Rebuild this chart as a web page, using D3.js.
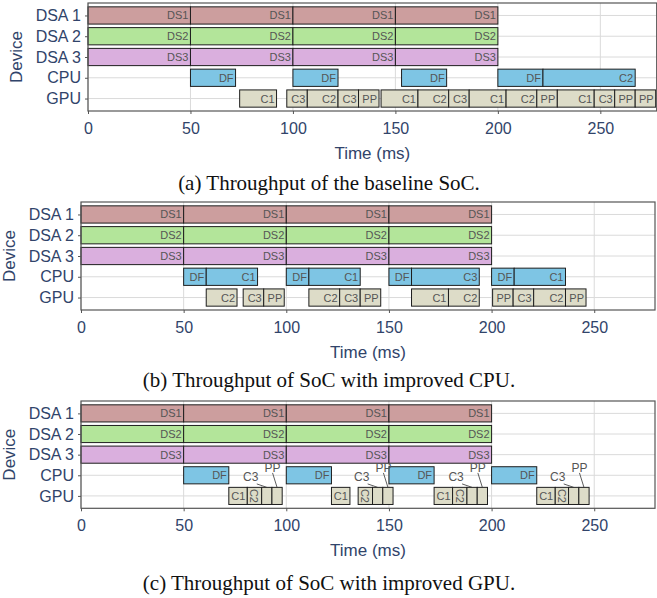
<!DOCTYPE html>
<html>
<head>
<meta charset="utf-8">
<script src="https://cdn.jsdelivr.net/npm/d3@7"></script>
<style>
  body { margin: 0; background: #fff; }
  svg { display: block; }
</style>
</head>
<body>
<svg width="657" height="598"></svg>
<script>
// rows and axis
const devices = ["DSA 1", "DSA 2", "DSA 3", "CPU", "GPU"];
const timeTicks = [0, 50, 100, 150, 200, 250];

// DSA frames, same in all three panels
const dsaFrames = [[0, 50], [50, 100], [100, 150], [150, 200]];
const dsaLabels = {"DSA 1": "DS1", "DSA 2": "DS2", "DSA 3": "DS3"};

// (a) baseline
const cpuA = [["DF", 50, 72], ["DF", 100, 122], ["DF", 153, 175], ["DF", 200, 222], ["C2", 222, 267]];
const gpuA = [["C1", 74, 92], ["C3", 97, 107], ["C2", 107, 122], ["C3", 122, 132], ["PP", 132, 142],
              ["C1", 143, 161], ["C2", 161, 176], ["C3", 176, 186], ["C1", 186, 204], ["C2", 204, 219],
              ["PP", 219, 229], ["C1", 229, 247], ["C3", 247, 257], ["PP", 257, 267], ["PP", 267, 277]];

// (b) improved CPU
const cpuB = [["DF", 50, 61], ["C1", 61, 86], ["DF", 100, 111], ["C1", 111, 136],
              ["DF", 150, 161], ["C3", 161, 194], ["DF", 200, 211], ["C1", 211, 236]];
const gpuB = [["C2", 61, 76], ["C3", 79, 89], ["PP", 89, 99], ["C2", 111, 126], ["C3", 126, 136],
              ["PP", 136, 146], ["C1", 161, 179], ["C2", 179, 194], ["PP", 200.5, 210.5],
              ["C3", 210.5, 220.5], ["C2", 220.5, 236], ["PP", 236, 246]];

// (c) improved GPU
const cpuC = [["DF", 50, 72], ["DF", 100, 122], ["DF", 150, 172], ["DF", 200, 222]];
const gpuC = [["C1", 72, 81], ["C2", 81, 88], ["C3", 88, 93], ["PP", 93, 98],
              ["C1", 122, 131], ["C2", 135, 142], ["C3", 142, 147], ["PP", 147, 152],
              ["C1", 172, 181], ["C2", 181, 188], ["C3", 188, 193], ["PP", 193, 198],
              ["C1", 222, 231], ["C2", 231, 237.5], ["C3", 237.5, 242.5], ["PP", 242.5, 247.5]];

const captions = ["(a) Throughput of the baseline SoC.",
                  "(b) Throughput of SoC with improved CPU.",
                  "(c) Throughput of SoC with improved GPU."];

var fill = {"DSA 1": "#cc9e9e", "DSA 2": "#b3e59a", "DSA 3": "#daafde", "CPU": "#7ec5e4", "GPU": "#dddcc8"};
var axisColor = "#31446a";
var svg = d3.select("svg");

function tasksFor(cpu, gpu) {
  var out = [];
  ["DSA 1", "DSA 2", "DSA 3"].forEach(dev => {
    dsaFrames.forEach(f => out.push({dev: dev, label: dsaLabels[dev], s: f[0], e: f[1]}));
  });
  cpu.forEach(t => out.push({dev: "CPU", label: t[0], s: t[1], e: t[2]}));
  gpu.forEach(t => out.push({dev: "GPU", label: t[0], s: t[1], e: t[2]}));
  return out;
}

function drawPanel(p) {
  var x = d3.scaleLinear().domain([0, p.xmax]).range([p.left, p.right]);
  var y = d3.scalePoint().domain(devices).range([p.top, p.bottom]).padding(0.6);
  var bh = y.step() * 0.83;
  var g = svg.append("g");

  // grid
  g.selectAll("line.vg").data(timeTicks).enter().append("line")
    .attr("x1", d => x(d)).attr("x2", d => x(d))
    .attr("y1", p.top).attr("y2", p.bottom)
    .attr("stroke", "#dadada").attr("stroke-width", 1);
  g.selectAll("line.hg").data(devices).enter().append("line")
    .attr("x1", p.left).attr("x2", p.right)
    .attr("y1", d => y(d)).attr("y2", d => y(d))
    .attr("stroke", "#dadada").attr("stroke-width", 1);

  var tasks = tasksFor(p.cpu, p.gpu);
  var tg = g.selectAll("g.task").data(tasks).enter().append("g").attr("class", "task");
  tg.append("rect")
    .attr("x", d => x(d.s)).attr("width", d => x(d.e) - x(d.s))
    .attr("y", d => y(d.dev) - bh / 2).attr("height", bh)
    .attr("fill", d => fill[d.dev])
    .attr("stroke", "#1e1e1e").attr("stroke-width", 1);

  tg.each(function(d) {
    var sel = d3.select(this);
    var mode = (p.special && d.dev === "GPU") ? (p.special[d.label] || "in") : "in";
    var cy = y(d.dev);
    var cx = (x(d.s) + x(d.e)) / 2;
    var txt = sel.append("text")
      .style("font-family", "'Liberation Sans', Arial, sans-serif")
      .style("font-size", "11px").attr("fill", "#555").text(d.label);
    if (mode === "in") {
      txt.attr("x", x(d.e) - 2).attr("y", cy + 4).attr("text-anchor", "end");
    } else if (mode === "rot") {
      txt.attr("text-anchor", "middle").attr("dominant-baseline", "central")
        .attr("transform", "translate(" + cx + "," + cy + ") rotate(90)");
    } else {
      var off = mode === "low" ? [-16, -19, 6, 7] : [-4.5, -28, 0, 5];
      txt.style("font-size", "12px")
        .attr("x", cx + off[0]).attr("y", cy + off[1] + 4).attr("text-anchor", "middle");
      sel.append("line")
        .attr("x1", cx + off[0] + off[2]).attr("y1", cy + off[1] + off[3])
        .attr("x2", cx).attr("y2", cy - bh / 2)
        .attr("stroke", "#333").attr("stroke-width", 0.8);
    }
  });

  // border
  g.append("rect").attr("x", p.left).attr("y", p.top)
    .attr("width", p.right - p.left).attr("height", p.bottom - p.top)
    .attr("fill", "none").attr("stroke", "#555").attr("stroke-width", 1.2);

  // axes
  var xa = g.append("g").attr("transform", "translate(0," + p.bottom + ")")
    .call(d3.axisBottom(x).tickValues(timeTicks).tickSize(3).tickPadding(5));
  var ya = g.append("g").attr("transform", "translate(" + p.left + ",0)")
    .call(d3.axisLeft(y).tickSize(3).tickPadding(4));
  [xa, ya].forEach(a => {
    a.select(".domain").remove();
    a.selectAll(".tick line").attr("stroke", "#555");
    a.selectAll(".tick text").attr("fill", axisColor)
      .style("font-family", "'Liberation Sans', Arial, sans-serif").style("font-size", "16px");
  });
  xa.selectAll(".tick text").attr("dy", "0.95em");

  g.append("text").attr("x", (p.left + p.right) / 2).attr("y", p.bottom + 48)
    .attr("text-anchor", "middle").attr("fill", axisColor)
    .style("font-family", "'Liberation Sans', Arial, sans-serif").style("font-size", "17px")
    .text("Time (ms)");
  g.append("text")
    .attr("transform", "translate(" + p.ylabX + "," + (p.top + p.bottom) / 2 + ") rotate(-90)")
    .attr("text-anchor", "middle").attr("dominant-baseline", "central").attr("fill", axisColor)
    .style("font-family", "'Liberation Sans', Arial, sans-serif").style("font-size", "17px")
    .text("Device");
  g.append("text").attr("x", 329).attr("y", p.capY)
    .attr("text-anchor", "middle").attr("fill", "#111")
    .style("font-family", "'Liberation Serif', 'Times New Roman', serif").style("font-size", "21px")
    .text(p.caption);
}

drawPanel({left: 88, right: 656.7, top: 3, bottom: 111, xmax: 277.5, cpu: cpuA, gpu: gpuA,
           ylabX: 16, capY: 190, caption: captions[0]});
drawPanel({left: 81, right: 655, top: 202, bottom: 310, xmax: 279.6, cpu: cpuB, gpu: gpuB,
           ylabX: 9, capY: 387, caption: captions[1]});
drawPanel({left: 81, right: 655, top: 401, bottom: 508.3, xmax: 279.6, cpu: cpuC, gpu: gpuC,
           ylabX: 9, capY: 590, caption: captions[2],
           special: {C2: "rot", C3: "low", PP: "high"}});
</script>
</body>
</html>
